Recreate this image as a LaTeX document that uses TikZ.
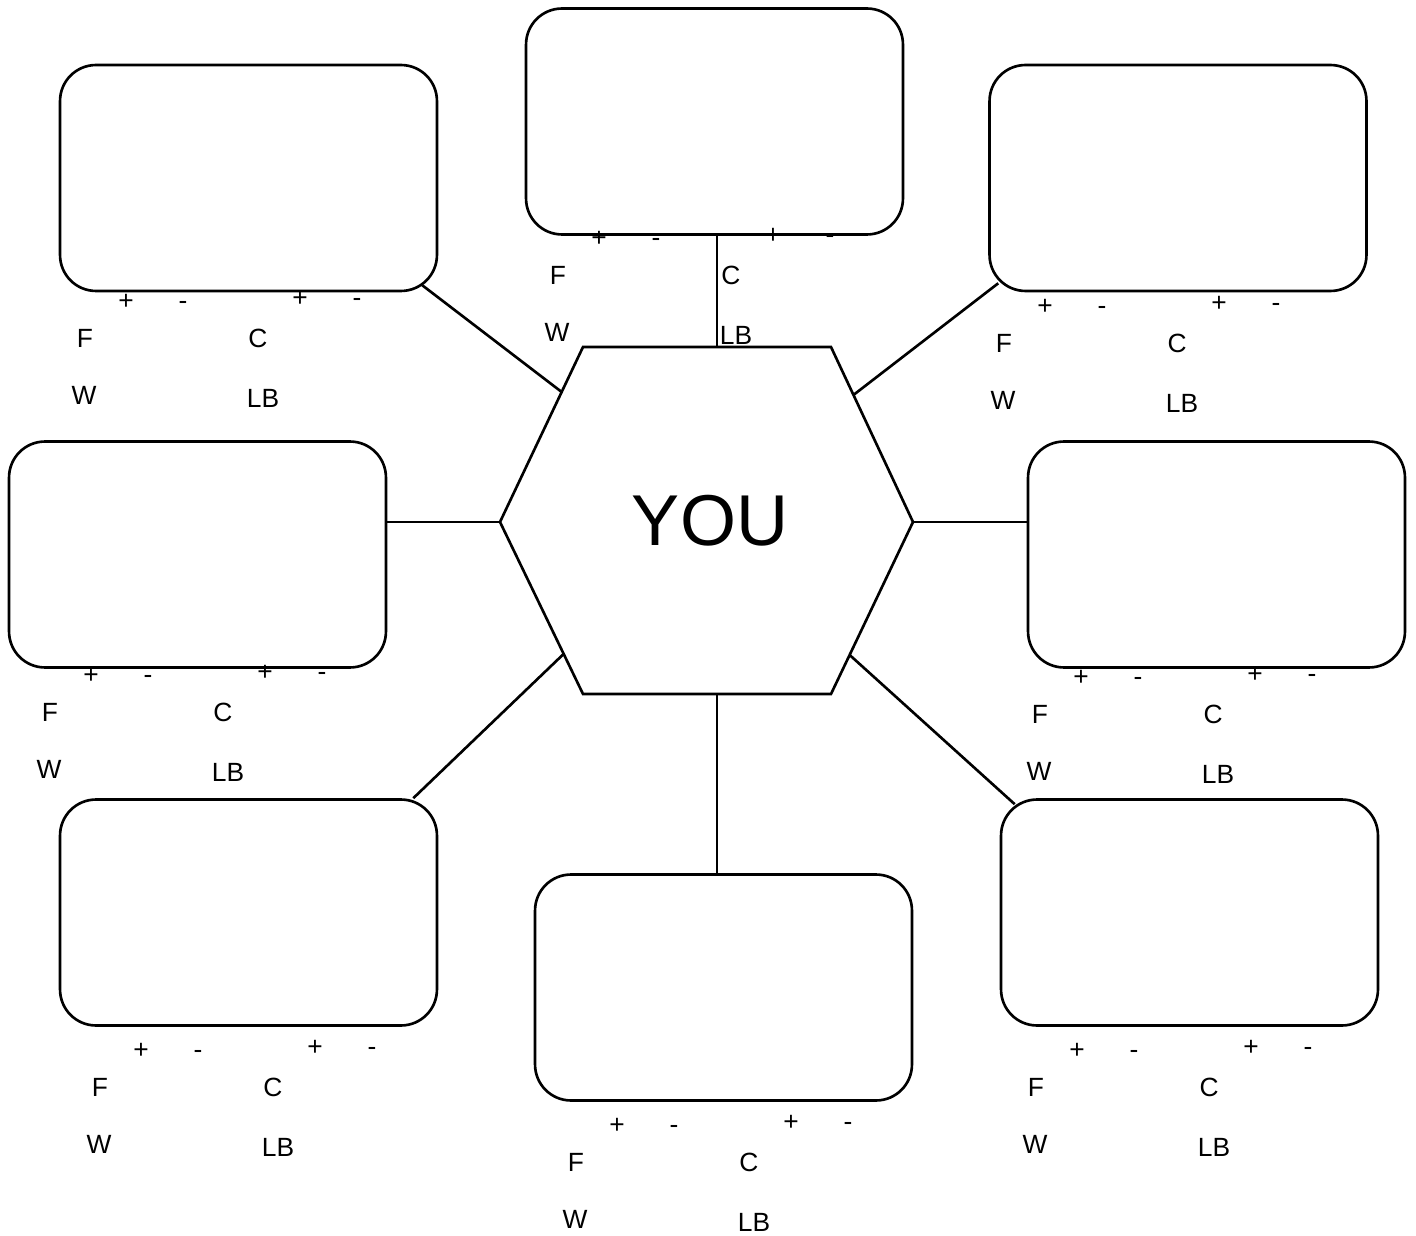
\documentclass[tikz,border=0pt]{standalone}
\usepackage{fontspec}
\setmainfont{Liberation Sans}
\usetikzlibrary{calc}

\newcommand{\signset}[3]{%
  \node[sign] (#3-p1) at (#1,#2) {+};
  \node[sign] (#3-m1) at ({#1+57},#2) {-};
  \node[sign] (#3-p2) at ({#1+174},{#2-3}) {+};
  \node[sign] (#3-m2) at ({#1+231},{#2-3}) {-};
  \node[lbl] (#3-f) at ({#1-41},{#2+34}) {F};
  \node[lbl] (#3-c) at ({#1+132},{#2+34}) {C};
  \node[lbl] (#3-w) at ({#1-42},{#2+91}) {W};
  \node[lbl] (#3-lb) at ({#1+137},{#2+94}) {LB};
}

\begin{document}
\begin{tikzpicture}[
  x=0.02cm, y=-0.02cm,
  line width=1.5pt,
  box/.style={draw, rounded corners=0.72cm, minimum width=7.54cm, minimum height=4.52cm, inner sep=0pt},
  lbl/.style={inner sep=0pt, font=\fontsize{15pt}{17pt}\selectfont},
  sign/.style={lbl, text height=0.6em, text depth=0pt},
  link/.style={draw,-}
  ]

\useasboundingbox (0,0) rectangle (1416,1236);

\coordinate (h1) at (583,347);
\coordinate (h2) at (831,347);
\coordinate (h3) at (913,522);
\coordinate (h4) at (831,694);
\coordinate (h5) at (583,694);
\coordinate (h6) at (500,522);
\draw (h1) -- (h2) -- (h3) -- (h4) -- (h5) -- (h6) -- cycle;
\node[font=\fontsize{41pt}{45pt}\selectfont] (you) at (710,521) {YOU};

\coordinate (ht) at ($(h1)!0.54!(h2)$);
\coordinate (hb) at ($(h5)!0.54!(h4)$);
\coordinate (htl) at ($(h6)!0.743!(h1)$);
\coordinate (htr) at ($(h2)!0.274!(h3)$);
\coordinate (hbl) at ($(h6)!0.767!(h5)$);
\coordinate (hbr) at ($(h3)!0.773!(h4)$);

\node[box] (top) at (714.5,121.5) {};
\node[box] (tl) at (248.5,178) {};
\node[box] (tr) at (1178,178) {};
\node[box] (ml) at (197.5,554.5) {};
\node[box] (mr) at (1216.5,554.5) {};
\node[box] (bl) at (248.5,912.5) {};
\node[box] (bc) at (723.5,987.5) {};
\node[box] (br) at (1189.5,912.5) {};

\draw[link] (ht) -- (ht |- top.south);
\draw[link] (htl) -- ([shift={(-16,-7)}]tl.south east);
\draw[link] (htr) -- ([shift={(10,-9)}]tr.south west);
\draw[link] (h6) -- (h6 -| ml.east);
\draw[link] (h3) -- (h3 -| mr.west);
\draw[link] (hbl) -- ([shift={(-25,0)}]bl.north east);
\draw[link] (hb) -- (hb |- bc.north);
\draw[link] (hbr) -- ([shift={(15,6)}]br.north west);

\signset{599}{241}{top}
\signset{126}{304}{tl}
\signset{1045}{309}{tr}
\signset{91}{678}{ml}
\signset{1081}{680}{mr}
\signset{141}{1053}{bl}
\signset{617}{1128}{bc}
\signset{1077}{1053}{br}

\end{tikzpicture}
\end{document}
